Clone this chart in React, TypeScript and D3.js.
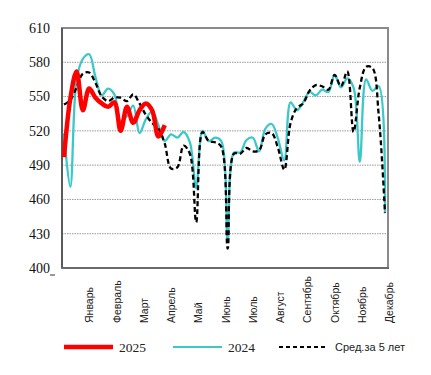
import React from "react";
import * as d3 from "d3";

const months = ["Январь","Февраль","Март","Апрель","Май","Июнь","Июль","Август","Сентябрь","Октябрь","Ноябрь","Декабрь"];
const yTicks = [400, 430, 460, 490, 520, 550, 580, 610];

const s2025 = [497, 548, 572, 538, 557, 549, 544, 541, 545, 520, 541, 527, 538, 544, 538, 515, 525];
const s2024 = [518, 471, 565, 583, 587, 567, 551, 557, 552, 528, 533, 542, 518, 530, 537, 525, 511, 517, 514, 519, 510, 470, 520, 511, 514, 511, 423, 501, 501, 512, 514, 502, 522, 526, 513, 494, 545, 538, 545, 554, 551, 556, 554, 569, 558, 566, 558, 493, 565, 555, 559, 449];
const sAvg = [543, 547, 558, 570, 571, 562, 550, 546, 549, 549, 546, 552, 544, 534, 527, 522, 509, 487, 488, 507, 500, 440, 519, 511, 510, 506, 417, 500, 500, 505, 502, 503, 517, 518, 505, 486, 527, 540, 544, 555, 560, 559, 556, 569, 559, 572, 519, 558, 576, 575, 534, 448];

const legendItems = [
  { label: "2025", color: "#ff0000", width: 4.5, dash: "", font: "'Liberation Serif', serif", size: 13.5 },
  { label: "2024", color: "#3cc8c8", width: 2.2, dash: "", font: "'Liberation Serif', serif", size: 13.5 },
  { label: "Сред.за 5 лет", color: "#000000", width: 2, dash: "4,3", font: "'Liberation Sans', sans-serif", size: 11 },
];

export default function App() {
  const W = 431, H = 375;
  const left = 62, right = 388, top = 28, bottom = 268;
  const x = d3.scaleLinear().domain([0, 51]).range([64, 385]);
  const y = d3.scaleLinear().domain([400, 610]).range([bottom, top]);
  const mx = d3.scaleBand().domain(months).range([left, 389]);
  const line = d3.line<number>().x((_, i) => x(i)).y(d => y(d)).curve(d3.curveCatmullRom.alpha(0.5));
  const legendX = [64, 173, 279];

  return (
    <svg width={W} height={H} style={{ position: "absolute", left: 0, top: 0 }}>
      <rect x={0} y={0} width={W} height={H} fill="#fff" />
      {yTicks.filter(t => t > 400 && t < 610).map(t => (
        <line key={t} x1={left} x2={right} y1={y(t)} y2={y(t)} stroke="#9a9a9a" strokeWidth={1} strokeDasharray="1.5,1" />
      ))}
      <rect x={left} y={top} width={right - left} height={bottom - top} fill="none" stroke="#8a8a8a" strokeWidth={2} />
      <line x1={left} x2={left} y1={top} y2={bottom} stroke="#5a5a5a" strokeWidth={2} />
      <line x1={left} x2={right + 1} y1={bottom} y2={bottom} stroke="#6a6a6a" strokeWidth={2} />
      {yTicks.map(t => (
        <text key={t} x={50} y={y(t)} dy="0.35em" textAnchor="end" fontFamily="'Liberation Serif', serif" fontSize={14} fill="#111">{t}</text>
      ))}
      <line x1={50} x2={55} y1={275} y2={275} stroke="#333" strokeWidth={1} />
      <path d={line(s2024) || ""} fill="none" stroke="#3cc8c8" strokeWidth={2.3} />
      <path d={line(sAvg) || ""} fill="none" stroke="#000" strokeWidth={2.3} strokeDasharray="5,3" />
      <path d={line(s2025) || ""} fill="none" stroke="#ff0000" strokeWidth={4.5} />
      {months.map(m => {
        const cx = (mx(m) as number) + mx.bandwidth();
        return (
          <text key={m} transform={`translate(${cx + 4},323) rotate(-90)`} fontFamily="'Liberation Sans', sans-serif" fontSize={10.5} fill="#222">{m}</text>
        );
      })}
      {legendItems.map((it, i) => (
        <g key={it.label}>
          <line x1={legendX[i]} x2={legendX[i] + 49} y1={347} y2={347} stroke={it.color} strokeWidth={it.width} strokeDasharray={it.dash || undefined} />
          <text x={legendX[i] + (i === 2 ? 56 : 55)} y={347} dy="0.35em" fontFamily={it.font} fontSize={it.size} fill="#222">{it.label}</text>
        </g>
      ))}
    </svg>
  );
}
